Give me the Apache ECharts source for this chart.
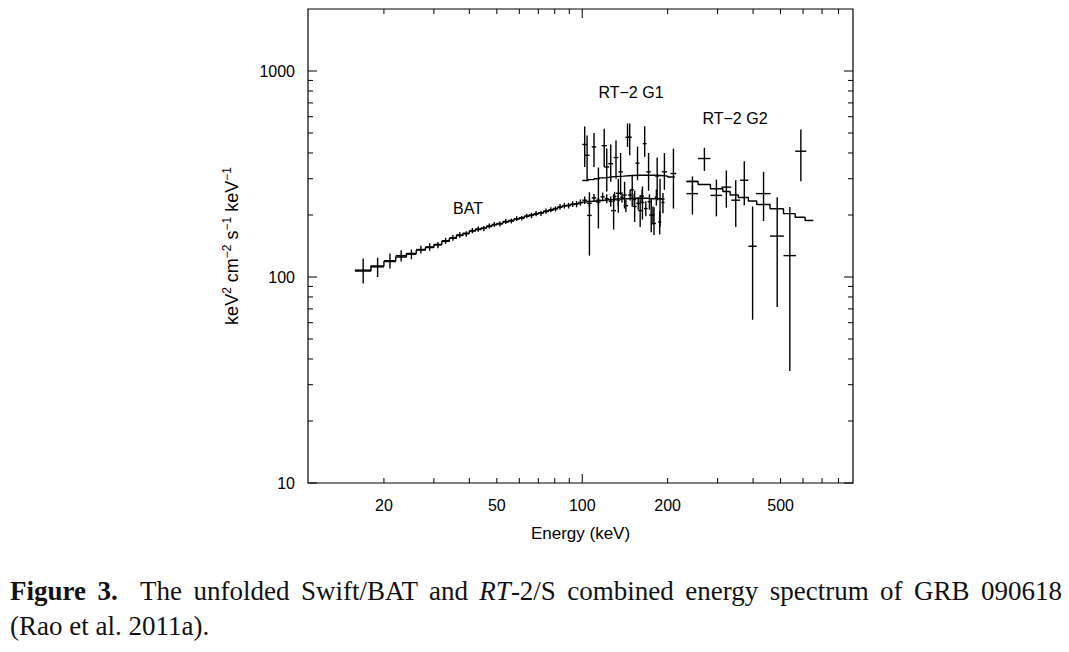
<!DOCTYPE html>
<html>
<head>
<meta charset="utf-8">
<script src="https://cdn.jsdelivr.net/npm/echarts@6/dist/echarts.min.js"></script>
<style>
  html, body { margin: 0; padding: 0; background: #fff; }
  #wrap { position: relative; width: 1069px; height: 652px; overflow: hidden; }
  #chart { position: absolute; left: 0; top: 0; width: 1069px; height: 652px; }
  .cap { position: absolute; left: 10px; width: 1052px; font-family: "Liberation Serif", "Times New Roman", serif;
         font-size: 27px; line-height: 35px; color: #111; white-space: nowrap; }
  #cap1 { top: 574px; text-align: justify; text-align-last: justify; white-space: normal; }
  #cap2 { top: 609px; }
</style>
</head>
<body>
<div id="wrap">
  <div id="chart"></div>
  <div class="cap" id="cap1"><b>Figure 3.</b>&nbsp; The unfolded Swift/BAT and <i>RT</i>-2/S combined energy spectrum of GRB 090618</div>
  <div class="cap" id="cap2">(Rao et al. 2011a).</div>
</div>
<script>
// axis ranges (keV, keV2 cm-2 s-1 keV-1)
const xMin = 10.8, xMax = 900
const yMin = 10, yMax = 2000

// tick marks and labels
const xMajorTicks = [100]
const xMinorTicks = [20, 30, 40, 50, 60, 70, 80, 90, 200, 300, 400, 500, 600, 700, 800]
const xTickLabels = [20, 50, 100, 200, 500]
const yMajorTicks = [10, 100, 1000]
const yMinorTicks = [20, 30, 40, 50, 60, 70, 80, 90, 200, 300, 400, 500, 600, 700, 800, 900]
const yTickLabels = [10, 100, 1000]

// Swift/BAT: bin edges, unfolded flux, 1-sigma error, model
const batEdges = [15.8, 18, 20, 22, 24, 26, 28, 30, 32, 34, 36, 38, 40, 42, 44, 46, 48, 50,
  52.5, 55, 57.5, 60, 62.5, 65, 67.5, 70, 73, 76, 79, 82, 85, 88, 91, 94, 97, 100,
  104, 108, 112, 116, 120, 124, 128, 132, 136, 140, 145, 150, 155, 160, 165, 170, 175, 180, 185, 190, 195]
const batVal = [108, 112, 120, 127, 129, 136, 140, 143, 150, 155, 160, 162, 168, 171, 172, 177, 180,
  181, 186, 187, 192, 193, 198, 199, 203, 204, 209, 212, 214, 219, 222, 222, 226, 226, 230,
  236, 228, 242, 231, 245, 240, 233, 246, 236, 244, 222, 250, 238, 228, 247, 215, 232, 200, 244, 185, 230]
const batErr = [15, 12, 10, 8, 7, 6, 6, 5, 5, 5, 5, 5, 5, 5, 5, 5, 5,
  5, 5, 5, 5, 5, 5, 6, 6, 6, 6, 6, 6, 7, 7, 7, 7, 8, 8,
  10, 10, 11, 11, 12, 12, 13, 13, 14, 14, 15, 15, 16, 16, 18, 18, 20, 20, 22, 24, 26]
const batModel = [107, 113, 119, 125, 130, 135, 139, 144, 149, 154, 159, 163, 167, 170, 173, 176, 179,
  182, 185, 188, 191, 194, 197, 200, 202, 205, 208, 211, 215, 218, 221, 223, 225, 227, 229,
  231, 233, 234, 235, 236, 237, 238, 239, 239, 240, 240, 241, 241, 241, 241, 241, 240, 240, 240, 239, 239]

// RT-2 G1: centre, half width, flux, lower, upper
const g1E = [102, 104, 106, 110, 114, 119.5, 122, 126, 129, 131.5, 134, 136.5, 141, 144.4, 147,
  150, 153, 156.6, 160, 163, 166, 171.3, 175, 179, 183.7, 188, 194.8, 209.6]
const g1dE = [2, 2, 2, 2, 2, 2.5, 2.5, 2.5, 2.5, 2.5, 2.5, 2.5, 2.5, 2.5, 2.5,
  2.5, 2.5, 2.5, 2.5, 2.5, 2.5, 3, 3, 3, 3, 3, 4, 5]
const g1Val = [440, 390, 199, 428, 236, 434, 342, 355, 210, 380, 255, 324, 250, 477, 477,
  265, 220, 357, 210, 230, 444, 324, 200, 182, 309, 240, 324, 318]
const g1Lo = [342, 294, 127, 342, 172, 342, 260, 290, 170, 300, 205, 250, 215, 428, 390,
  220, 185, 295, 175, 190, 384, 262, 165, 160, 235, 175, 265, 215]
const g1Hi = [538, 487, 258, 500, 340, 525, 420, 440, 252, 460, 300, 400, 290, 556, 556,
  310, 262, 430, 250, 275, 539, 400, 240, 218, 380, 300, 400, 420]
const g1ModelEdges = [100, 105, 110, 115, 120, 125, 130, 140, 150, 160, 170, 180, 190, 200, 212]
const g1Model = [294, 297, 300, 303, 305, 307, 309, 311, 312, 312, 312, 311, 309, 306]

// RT-2 G2: bin low, bin high, flux, lower, upper
const g2BinLo = [233, 233, 256, 283, 309, 335, 360, 385, 410, 459, 512, 563]
const g2BinHi = [256, 256, 283, 311, 335, 360, 385, 412, 461, 514, 566, 616]
const g2Val = [291, 254, 376, 249, 273, 236, 295, 141, 254, 158, 127, 408]
const g2Lo = [262, 201, 327, 197, 217, 175, 223, 62, 187, 71.5, 35, 292]
const g2Hi = [308, 280, 424, 297, 329, 295, 365, 220, 324, 244, 219, 520]
const g2ModelEdges = [233, 256, 283, 313, 332, 355, 385, 412, 459, 512, 563, 610, 652]
const g2Model = [291, 281, 268, 260, 250, 243, 234, 225, 214.5, 203, 195, 188]

const ink = '#000'
const font = '"Liberation Sans", Arial, sans-serif'

const stepData = (edges, vals) => {
  const d = vals.map((v, i) => [edges[i], v])
  d.push([edges[edges.length - 1], vals[vals.length - 1]])
  return d
}

const batItems = batVal.map((v, i) => [(batEdges[i] + batEdges[i + 1]) / 2, batEdges[i], batEdges[i + 1], v, v - batErr[i], v + batErr[i]])
const g1Items = g1Val.map((v, i) => [g1E[i], g1E[i] - g1dE[i], g1E[i] + g1dE[i], v, g1Lo[i], g1Hi[i]])
const g2Items = g2Val.map((v, i) => [(g2BinLo[i] + g2BinHi[i]) / 2, g2BinLo[i], g2BinHi[i], v, g2Lo[i], g2Hi[i]])

const renderCross = (params, api) => {
  const e = api.value(0), v = api.value(3)
  const l = api.coord([api.value(1), v]), r = api.coord([api.value(2), v])
  const b = api.coord([e, api.value(4)]), t = api.coord([e, api.value(5)])
  const style = { stroke: ink, lineWidth: 1.4 }
  return {
    type: 'group',
    children: [
      { type: 'line', shape: { x1: l[0], y1: l[1], x2: r[0], y2: r[1] }, style },
      { type: 'line', shape: { x1: b[0], y1: b[1], x2: t[0], y2: t[1] }, style }
    ]
  }
}

const crossSeries = (name, items) => ({
  name,
  type: 'custom',
  renderItem: renderCross,
  data: items,
  encode: { x: [0, 1, 2], y: [3, 4, 5] },
  clip: true,
  silent: true
})

const modelSeries = (name, data) => ({
  name,
  type: 'line',
  step: 'end',
  data,
  showSymbol: false,
  lineStyle: { color: ink, width: 1.4 },
  silent: true
})

// frame ticks on all four sides, drawn in axis coordinates
const xTickItems = xMajorTicks.map(t => [t, 1]).concat(xMinorTicks.map(t => [t, 0]))
const yTickItems = yMajorTicks.map(t => [t, 1]).concat(yMinorTicks.map(t => [t, 0]))

const renderXTick = (params, api) => {
  const t = api.value(0), len = api.value(1) ? 9 : 5
  const b = api.coord([t, yMin]), tp = api.coord([t, yMax])
  const style = { stroke: ink, lineWidth: 1 }
  return {
    type: 'group',
    children: [
      { type: 'line', shape: { x1: b[0], y1: b[1], x2: b[0], y2: b[1] - len }, style },
      { type: 'line', shape: { x1: tp[0], y1: tp[1], x2: tp[0], y2: tp[1] + len }, style }
    ]
  }
}
const renderYTick = (params, api) => {
  const t = api.value(0), len = api.value(1) ? 9 : 5
  const l = api.coord([xMin, t]), r = api.coord([xMax, t])
  const style = { stroke: ink, lineWidth: 1 }
  return {
    type: 'group',
    children: [
      { type: 'line', shape: { x1: l[0], y1: l[1], x2: l[0] + len, y2: l[1] }, style },
      { type: 'line', shape: { x1: r[0], y1: r[1], x2: r[0] - len, y2: r[1] }, style }
    ]
  }
}
const renderXLabel = (params, api) => {
  const t = api.value(0)
  const p = api.coord([t, yMin])
  return {
    type: 'text',
    x: p[0],
    y: p[1] + 22,
    style: { text: String(t), align: 'center', verticalAlign: 'middle', fill: ink, font: '16px ' + font }
  }
}

const chart = echarts.init(document.getElementById('chart'), null, { renderer: 'svg' })
chart.setOption({
  animation: false,
  backgroundColor: '#fff',
  grid: { left: 308, right: 216, top: 9, bottom: 169, show: true, borderColor: ink, borderWidth: 1.2, backgroundColor: 'transparent' },
  xAxis: {
    type: 'log', logBase: 10, min: xMin, max: xMax,
    name: 'Energy (keV)', nameLocation: 'middle', nameGap: 42,
    nameTextStyle: { color: ink, fontSize: 17, fontFamily: font },
    axisLine: { show: false }, axisTick: { show: false }, axisLabel: { show: false }, splitLine: { show: false }
  },
  yAxis: {
    type: 'log', logBase: 10, min: yMin, max: yMax,
    name: '{m|keV}{s|2}{m| cm}{s|−2}{m| s}{s|−1}{m| keV}{s|−1}', nameLocation: 'middle', nameGap: 65, nameRotate: 90,
    nameTextStyle: {
      color: ink, fontSize: 18, fontFamily: font,
      rich: {
        m: { fontSize: 18, fontFamily: font, color: ink, lineHeight: 22 },
        s: { fontSize: 12, fontFamily: font, color: ink, verticalAlign: 'top', lineHeight: 22 }
      }
    },
    axisLine: { show: false }, axisTick: { show: false }, splitLine: { show: false },
    axisLabel: {
      color: ink, fontSize: 16, fontFamily: font, margin: 13,
      formatter: v => (yTickLabels.includes(Math.round(v)) ? String(Math.round(v)) : '')
    }
  },
  graphic: [
    { type: 'text', x: 468, y: 208, style: { text: 'BAT', align: 'center', verticalAlign: 'middle', fill: ink, font: '16px ' + font } },
    { type: 'text', x: 631, y: 92, style: { text: 'RT−2 G1', align: 'center', verticalAlign: 'middle', fill: ink, font: '16px ' + font } },
    { type: 'text', x: 735, y: 118, style: { text: 'RT−2 G2', align: 'center', verticalAlign: 'middle', fill: ink, font: '16px ' + font } }
  ],
  series: [
    modelSeries('BAT model', stepData(batEdges, batModel)),
    modelSeries('RT-2 G1 model', stepData(g1ModelEdges, g1Model)),
    modelSeries('RT-2 G2 model', stepData(g2ModelEdges, g2Model)),
    crossSeries('BAT', batItems),
    crossSeries('RT-2 G1', g1Items),
    crossSeries('RT-2 G2', g2Items),
    { type: 'custom', renderItem: renderXTick, data: xTickItems, clip: false, silent: true, encode: { x: 0 } },
    { type: 'custom', renderItem: renderYTick, data: yTickItems, clip: false, silent: true, encode: { y: 0 } },
    { type: 'custom', renderItem: renderXLabel, data: xTickLabels.map(t => [t]), clip: false, silent: true, encode: { x: 0 } }
  ]
})
window.addEventListener('resize', () => chart.resize())
</script>
</body>
</html>
